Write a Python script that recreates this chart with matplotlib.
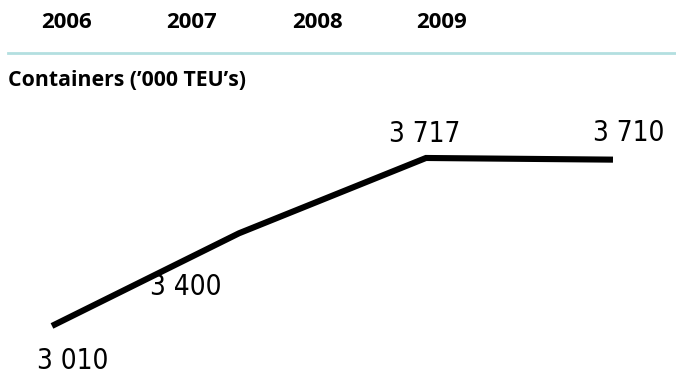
import matplotlib
matplotlib.use("Agg")
import matplotlib.pyplot as plt

# Containers handled per year ('000 TEU's)
years = ["2006", "2007", "2008", "2009"]
containers = [3010, 3400, 3717, 3710]
value_labels = ["3 010", "3 400", "3 717", "3 710"]

fig = plt.figure(figsize=(6.76, 3.82), dpi=100)
ax = fig.add_axes([0, 0, 1, 1])
ax.set_xlim(-0.278, 3.337)
ax.set_ylim(2774, 4382)
ax.axis("off")

x = list(range(len(years)))
ax.plot(x, containers, color="black", lw=4.4,
        solid_capstyle="butt", solid_joinstyle="miter")

# value labels around each point (offsets in points)
offsets = [(15, -25), (-38, -39), (-1, 17), (11, 19)]
for xi, yi, lab, off in zip(x, containers, value_labels, offsets):
    ax.annotate(lab, (xi, yi), xytext=off, textcoords="offset points",
                ha="center", va="center", fontsize=20,
                family="DejaVu Sans", stretch="condensed")

# header with year columns
year_x = [67, 192, 317, 442]
for px, yr in zip(year_x, years):
    fig.text(px / 676, 1 - 22 / 382, yr, ha="center", va="center",
             fontsize=16, fontweight="bold", family=["Open Sans", "DejaVu Sans"])

fig.add_artist(plt.Line2D([8 / 676, 1], [1 - 53 / 382, 1 - 53 / 382],
                          color="#b3dfe0", lw=2))

fig.text(8 / 676, 1 - 80 / 382, "Containers (\u2019000 TEU\u2019s)", ha="left", va="center",
         fontsize=15.3, fontweight="bold", family=["Open Sans", "DejaVu Sans"])

fig.savefig("out.png", dpi=100)
